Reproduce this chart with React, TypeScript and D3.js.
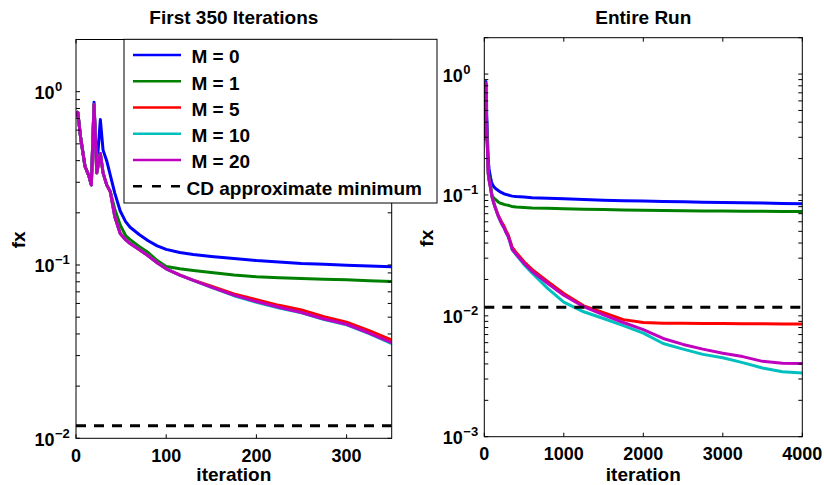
import React from "react";
import * as d3 from "d3";

const iterations = [0,2,5,10,14,17,20,23,27,30,34,38,43,49,55,60,70,80,90,100,115,130,150,175,200,225,250,275,300,325,350,400,500,600,800,1000,1250,1500,1750,2000,2250,2500,2750,3000,3250,3500,3750,4000];

const m0 = [0.72,0.76,0.55,0.37,0.33,0.29,0.87,0.36,0.69,0.46, 0.40,0.33,0.26,0.205,0.178,0.165,0.15,0.138,0.129,0.123, 0.118,0.115,0.112,0.109,0.106,0.104,0.102,0.101,0.0998,0.0988, 0.0978,0.097,0.096,0.095,0.094,0.093,0.0915,0.0905,0.0897,0.089, 0.0882,0.0877,0.0872,0.0867,0.0862,0.0856,0.085,0.0845];
const m1 = [0.72,0.76,0.55,0.37,0.33,0.29,0.84,0.34,0.44,0.34, 0.29,0.265,0.21,0.17,0.148,0.14,0.128,0.118,0.106,0.098, 0.095,0.093,0.0905,0.0875,0.0855,0.0845,0.0835,0.0828,0.0822,0.0812, 0.0803,0.0795,0.0787,0.078,0.0775,0.077,0.0763,0.0757,0.0752,0.0748, 0.0744,0.0741,0.0738,0.0736,0.0734,0.0732,0.073,0.0729];
const m5 = [0.72,0.76,0.55,0.37,0.33,0.29,0.84,0.34,0.44,0.34, 0.29,0.265,0.19,0.152,0.14,0.133,0.123,0.113,0.103,0.095, 0.0878,0.0818,0.0755,0.068,0.063,0.0585,0.055,0.0503,0.0468,0.0418, 0.0369,0.0335,0.028,0.0242,0.0192,0.0153,0.0121,0.0106,0.0093,0.0088, 0.0087,0.00868,0.00865,0.00862,0.0086,0.00858,0.00856,0.00855];
const m10 = [0.72,0.76,0.55,0.37,0.33,0.29,0.84,0.34,0.44,0.34, 0.29,0.265,0.19,0.152,0.14,0.133,0.123,0.113,0.103,0.095, 0.0875,0.0815,0.0742,0.0665,0.061,0.0565,0.053,0.0485,0.0452,0.0402, 0.0352,0.032,0.0265,0.0226,0.0168,0.0130,0.0108,0.0095,0.0083,0.0072, 0.0059,0.0053,0.0048,0.0045,0.0041,0.0037,0.00345,0.00337];
const m20 = [0.72,0.76,0.55,0.37,0.33,0.29,0.84,0.34,0.44,0.34, 0.29,0.265,0.19,0.152,0.14,0.133,0.123,0.113,0.103,0.095, 0.0875,0.0815,0.0745,0.067,0.0615,0.057,0.0532,0.0488,0.0455,0.0405, 0.0356,0.0325,0.0272,0.0234,0.0185,0.0148,0.0119,0.0102,0.0088,0.0077, 0.0065,0.0058,0.0053,0.0049,0.0046,0.0042,0.00405,0.00403];

const cdMinimum = 0.0118;

const seriesNames = ["M = 0", "M = 1", "M = 5", "M = 10", "M = 20"];
const seriesValues = [m0, m1, m5, m10, m20];
const seriesColors = ["#0000ff", "#008000", "#ff0000", "#00bfbf", "#bf00bf"];
const cdLabel = "CD approximate minimum";

const leftTitle = "First 350 Iterations";
const rightTitle = "Entire Run";
const xLabel = "iteration";
const yLabel = "fx";
const leftXTicks = [0, 100, 200, 300];
const rightXTicks = [0, 1000, 2000, 3000, 4000];
const leftYExps = [-2, -1, 0];
const rightYExps = [-3, -2, -1, 0];

const FONT = "'Liberation Sans', Arial, Helvetica, sans-serif";

type PanelProps = {
  x0: number; x1: number; y0: number; y1: number;
  xMax: number; yMin: number; yMax: number;
  xTicks: number[]; yExps: number[]; title: string; labelX: number;
  id: string;
};

function Panel(p: PanelProps) {
  const xs = d3.scaleLinear().domain([0, p.xMax]).range([p.x0, p.x1]);
  const ys = d3.scaleLog().domain([p.yMin, p.yMax]).range([p.y1, p.y0]);
  const tickLen = 4;
  const minor: number[] = [];
  const lo = Math.round(Math.log10(p.yMin));
  const hi = Math.ceil(Math.log10(p.yMax));
  for (let e = lo; e <= hi; e++) {
    for (let k = 2; k <= 9; k++) {
      const v = k * Math.pow(10, e);
      if (v > p.yMin && v <= p.yMax) minor.push(v);
    }
  }
  const line = d3.line<[number, number]>().x(d => xs(d[0])).y(d => ys(d[1]));
  const cx = (p.x0 + p.x1) / 2;
  return (
    <g>
      <defs>
        <clipPath id={p.id}>
          <rect x={p.x0} y={p.y0} width={p.x1 - p.x0} height={p.y1 - p.y0} />
        </clipPath>
      </defs>
      <text x={cx} y={23.5} textAnchor="middle" fontSize={19} fontWeight="bold" fontFamily={FONT}>{p.title}</text>
      <g clipPath={`url(#${p.id})`}>
        {seriesValues.map((vals, i) => {
          const pts: [number, number][] = iterations
            .map((it, j) => [it, vals[j]] as [number, number])
            .filter(d => d[0] <= p.xMax);
          return <path key={i} d={line(pts) || ""} fill="none" stroke={seriesColors[i]} strokeWidth={3} strokeLinejoin="round" />;
        })}
        <line x1={p.x0} x2={p.x1} y1={ys(cdMinimum)} y2={ys(cdMinimum)} stroke="#000" strokeWidth={3} strokeDasharray="10,8" />
      </g>
      <rect x={p.x0} y={p.y0} width={p.x1 - p.x0} height={p.y1 - p.y0} fill="none" stroke="#000" strokeWidth={1} />
      {p.xTicks.map(t => (
        <g key={"x" + t}>
          <line x1={xs(t)} x2={xs(t)} y1={p.y1} y2={p.y1 - tickLen} stroke="#000" />
          <line x1={xs(t)} x2={xs(t)} y1={p.y0} y2={p.y0 + tickLen} stroke="#000" />
          <text x={xs(t)} y={p.y1 + 23.5} textAnchor="middle" fontSize={18} fontWeight="bold" fontFamily={FONT}>{t}</text>
        </g>
      ))}
      {p.yExps.map(e => {
        const y = ys(Math.pow(10, e));
        return (
          <g key={"y" + e}>
            <line x1={p.x0} x2={p.x0 + tickLen} y1={y} y2={y} stroke="#000" />
            <line x1={p.x1} x2={p.x1 - tickLen} y1={y} y2={y} stroke="#000" />
            <text x={p.x0 - 21.5} y={y + 7.5} textAnchor="end" fontSize={18} fontWeight="bold" fontFamily={FONT}>10</text>
            <text x={p.x0 - 21} y={y - 0.5} textAnchor="start" fontSize={13} fontWeight="bold" fontFamily={FONT}>{e === 0 ? "0" : "\u2212" + Math.abs(e)}</text>
          </g>
        );
      })}
      {minor.map((v, i) => (
        <g key={"m" + i}>
          <line x1={p.x0} x2={p.x0 + tickLen} y1={ys(v)} y2={ys(v)} stroke="#000" />
          <line x1={p.x1} x2={p.x1 - tickLen} y1={ys(v)} y2={ys(v)} stroke="#000" />
        </g>
      ))}
      <text x={cx} y={481} textAnchor="middle" fontSize={19} fontWeight="bold" fontFamily={FONT}>{xLabel}</text>
      <text transform={`translate(${p.labelX},${(p.y0 + p.y1) / 2 + 1}) rotate(-90)`} textAnchor="middle" fontSize={19} fontWeight="bold" fontFamily={FONT}>{yLabel}</text>
    </g>
  );
}

function Legend() {
  const lx = 124, ly = 39.3, lw = 313, lh = 163.7;
  const rowY = (i: number) => 55 + i * 26.25;
  return (
    <g>
      <rect x={lx} y={ly} width={lw} height={lh} fill="#fff" stroke="#000" strokeWidth={1} />
      {seriesNames.map((n, i) => (
        <g key={n}>
          <line x1={133} x2={181} y1={rowY(i)} y2={rowY(i)} stroke={seriesColors[i]} strokeWidth={2.5} />
          <text x={191.5} y={rowY(i) + 8.3} fontSize={19} fontWeight="bold" fontFamily={FONT}>{n}</text>
        </g>
      ))}
      <line x1={133} x2={181} y1={rowY(5)} y2={rowY(5)} stroke="#000" strokeWidth={2.5} strokeDasharray="9,10" />
      <text x={186.5} y={rowY(5) + 8.3} fontSize={19} fontWeight="bold" fontFamily={FONT}>{cdLabel}</text>
    </g>
  );
}

export default function App() {
  return (
    <svg width={824} height={485} style={{ position: "absolute", left: 0, top: 0, background: "#fff" }}>
      <rect width={824} height={485} fill="#fff" />
      <Panel id="clipL" x0={76} x1={391.7} y0={39.5} y1={438.3} xMax={350} yMin={0.01} yMax={2}
        xTicks={leftXTicks} yExps={leftYExps} title={leftTitle} labelX={25} />
      <Panel id="clipR" x0={484.3} x1={802.3} y0={37.7} y1={436.7} xMax={4000} yMin={0.001} yMax={2}
        xTicks={rightXTicks} yExps={rightYExps} title={rightTitle} labelX={433} />
      <Legend />
    </svg>
  );
}
